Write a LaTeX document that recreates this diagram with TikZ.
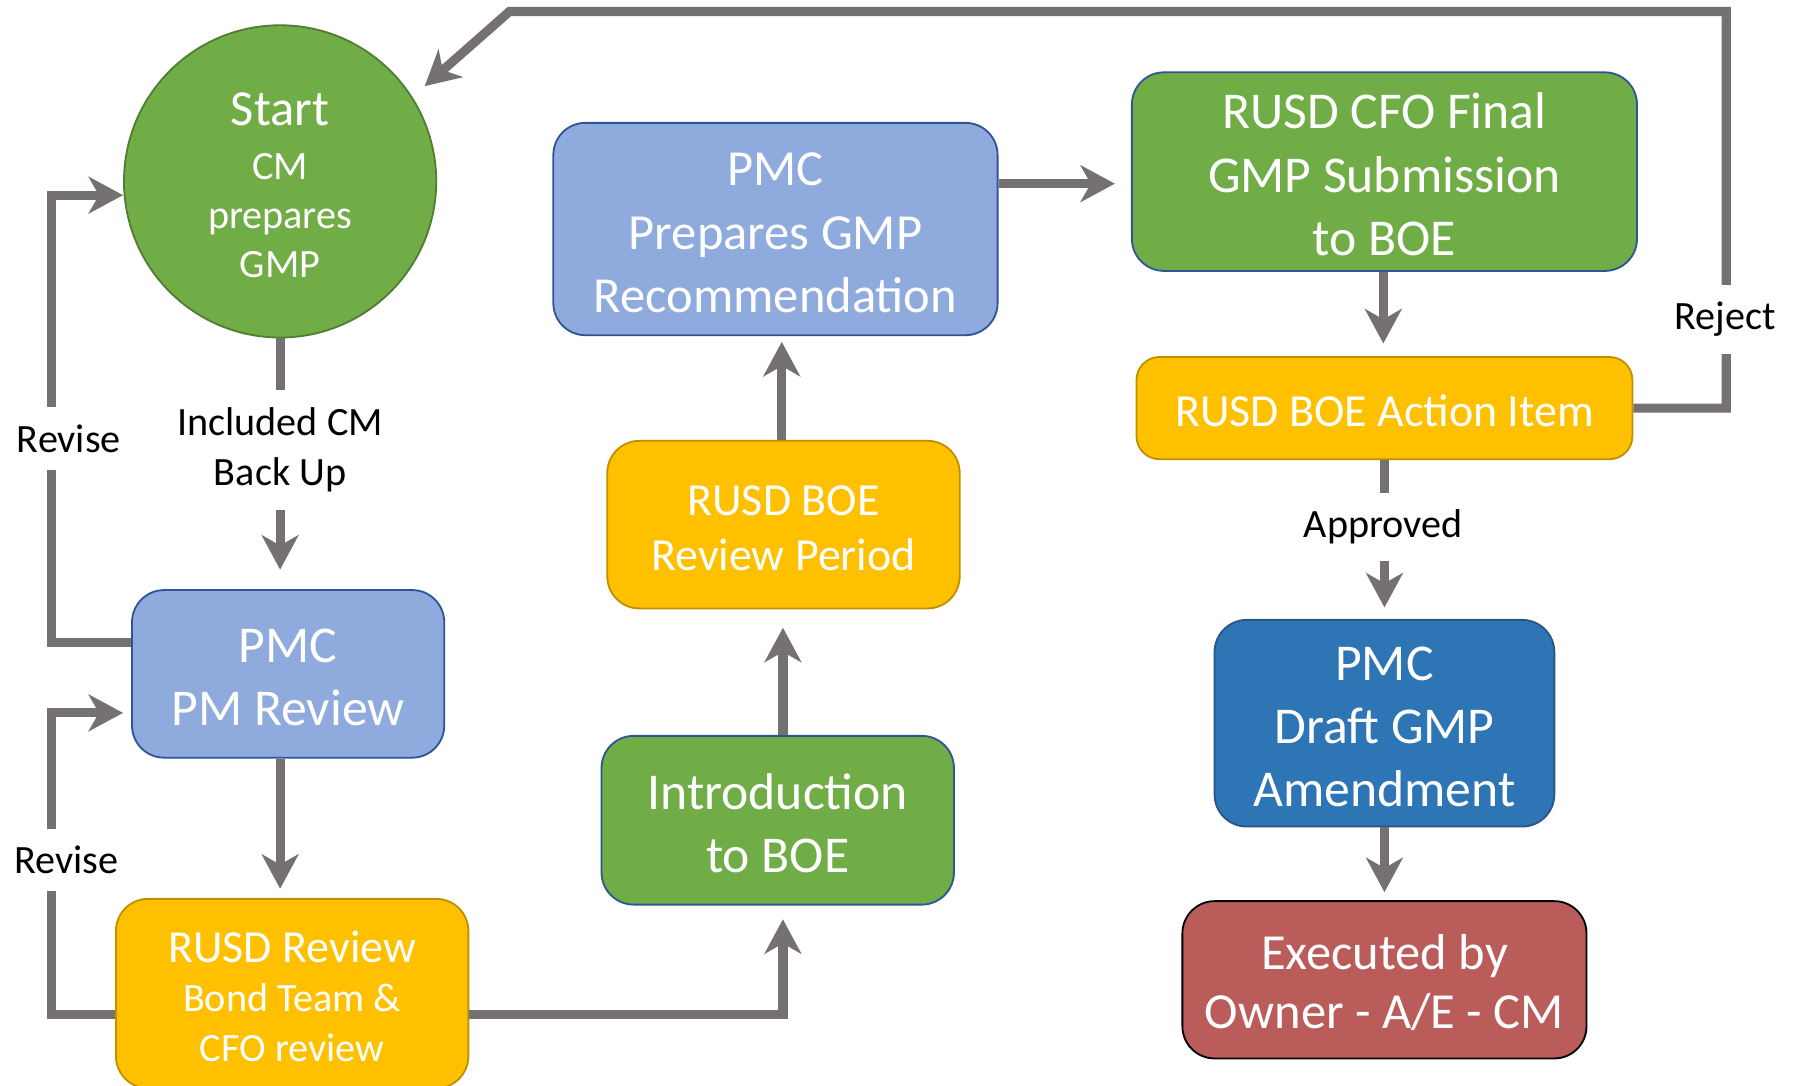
\documentclass[tikz,border=0pt]{standalone}
\usepackage{fontspec}
\setmainfont{Carlito}
\usetikzlibrary{arrows.meta}
\definecolor{lnc}{HTML}{767171}
\definecolor{grn}{HTML}{70AD47}
\definecolor{grnd}{HTML}{507E32}
\definecolor{lblue}{HTML}{8FAADC}
\definecolor{bdr}{HTML}{2F5597}
\definecolor{ylw}{HTML}{FFC000}
\definecolor{ylwd}{HTML}{BF9000}
\definecolor{dblue}{HTML}{2E75B6}
\definecolor{dbluebd}{HTML}{2A5585}
\definecolor{red}{HTML}{B95C5A}
\newcommand\tsup{\rule{0pt}{0.8em}}
\begin{document}
\begin{tikzpicture}[x=1pt,y=-1pt,
  box/.style={draw, line width=1.6pt, rounded corners=28pt, align=center, text=white, inner sep=0pt},
  arr/.style={draw=lnc, line width=8pt, -{Stealth[length=30pt,width=32pt,inset=9pt]}},
  lbl/.style={fill=white, text=black, font=\fontsize{35}{44}\selectfont, align=center, inner xsep=4pt, inner ysep=15pt}]
\clip (0,0) rectangle (1568,946);
\path[use as bounding box] (0,0) rectangle (1568,946);

% nodes
\node[circle, draw=grnd, fill=grn, line width=1.6pt, minimum size=272pt, inner sep=0pt, text=white, align=center, font=\fontsize{35}{43}\selectfont] (start) at (244,158) {{\fontsize{44}{50}\selectfont\tsup Start}\\[4pt]CM\\prepares\\GMP};
\node[box, fill=lblue, draw=bdr, minimum width=387pt, minimum height=185pt, font=\fontsize{44}{55}\selectfont] (pmprep) at (675.5,199.5) {\tsup PMC\\Prepares GMP\\Recommendation};
\node[box, fill=grn, draw=bdr, minimum width=440pt, minimum height=173pt, font=\fontsize{45}{55}\selectfont] (cfo) at (1206,149.5) {\tsup RUSD CFO Final\\GMP Submission\\to BOE};
\node[box, fill=ylw, draw=ylwd, rounded corners=20pt, minimum width=432pt, minimum height=89pt, font=\fontsize{40}{48}\selectfont] (action) at (1206,355.5) {\tsup RUSD BOE Action Item};
\node[box, fill=dblue, draw=dbluebd, minimum width=296pt, minimum height=180pt, font=\fontsize{45}{55}\selectfont] (draft) at (1206,630) {\tsup PMC\\Draft GMP\\Amendment};
\node[box, fill=red, draw=black, minimum width=352pt, minimum height=137pt, font=\fontsize{44}{51}\selectfont] (exec) at (1206,853.5) {\tsup Executed by\\Owner - A/E - CM};
\node[box, fill=lblue, draw=bdr, minimum width=272pt, minimum height=146pt, font=\fontsize{45}{55}\selectfont] (pmrev) at (251,587) {\tsup PMC\\PM Review};
\node[box, fill=ylw, draw=ylwd, minimum width=307pt, minimum height=165pt, font=\fontsize{35}{43}\selectfont] (rusdrev) at (254.5,865.5) {{\fontsize{40}{45}\selectfont\tsup RUSD Review}\\Bond Team \&\\CFO review};
\node[box, fill=grn, draw=bdr, minimum width=307pt, minimum height=147pt, font=\fontsize{45}{55}\selectfont] (intro) at (677.5,714.5) {\tsup Introduction\\to BOE};
\node[box, fill=ylw, draw=ylwd, minimum width=307pt, minimum height=146pt, font=\fontsize{40}{48}\selectfont] (period) at (682.5,457) {\tsup RUSD BOE\\Review Period};

% connectors
\draw[arr, shorten >=17pt] (start.south) -- (start.south |- pmrev.north);
\draw[arr] ([yshift=27pt]pmrev.west) -- ++(-69pt,0) |- ([yshift=-12pt]start.west);
\draw[arr, shorten >=7pt] ([yshift=-18.5pt]rusdrev.west) -- ++(-55pt,0) |- ([yshift=-34pt]pmrev.west);
\draw[arr, shorten >=8pt] ([xshift=-7pt]pmrev.south) -- ([xshift=-7pt]pmrev.south |- rusdrev.north);
\draw[arr, shorten >=12pt] ([yshift=-18.5pt]rusdrev.east) -| ([xshift=4.5pt]intro.south);
\draw[arr, shorten >=16pt] ([xshift=4.5pt]intro.north) -- ([xshift=4.5pt]intro.north |- period.south);
\draw[arr, shorten >=5pt] ([xshift=-1.5pt]period.north) -- ([xshift=-1.5pt]period.north |- pmprep.south);
\draw[arr, shorten >=14pt] ([yshift=39.5pt]pmprep.east) -- ([yshift=39.5pt]pmprep.east -| cfo.west);
\draw[arr, shorten >=11pt] ([xshift=-1pt]cfo.south) -- ([xshift=-1pt]cfo.south |- action.north);
\draw[arr, shorten >=10pt] (action.south) -- (action.south |- draft.north);
\draw[arr, shorten >=7pt] (draft.south) -- (draft.south |- exec.north);
\draw[arr] (action.east) -- ++(81pt,0) -- ++(0,345.5pt) -- ++(-1060pt,0) -- ([shift={(126pt,83pt)}]start.center);

% labels
\node[lbl] (inc) at (244,392) {Included CM\\Back Up};
\node[lbl] (rev1) at (60,382) {Revise};
\node[lbl] (rev2) at (58,749) {Revise};
\node[lbl] (appr) at (1205,459) {Approved};
\node[lbl] (rej) at (1503,278) {Reject};
\end{tikzpicture}
\end{document}
